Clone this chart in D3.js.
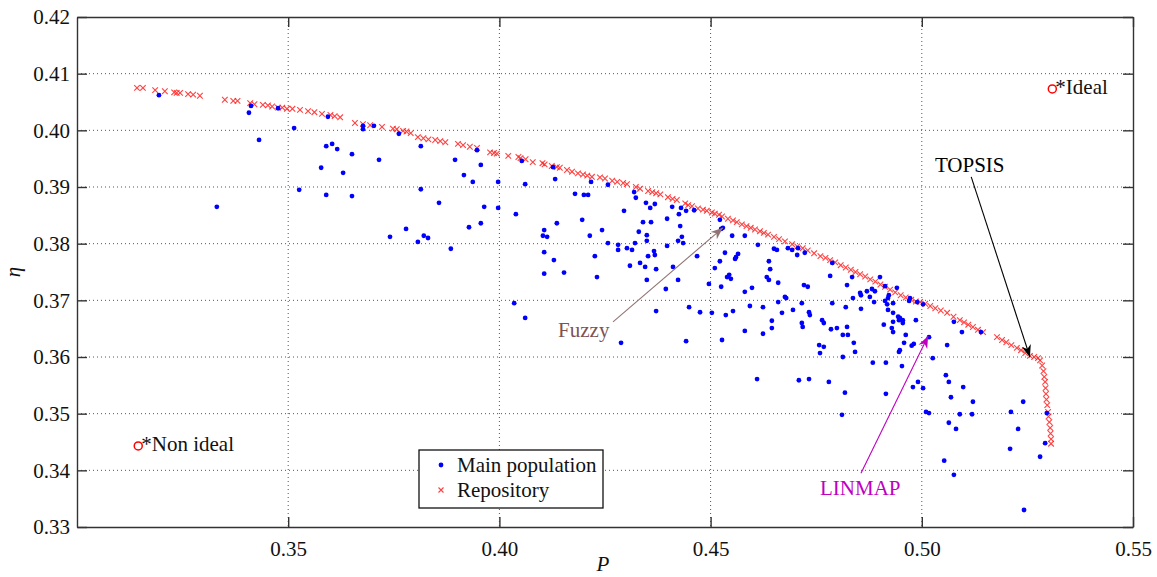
<!DOCTYPE html>
<html><head><meta charset="utf-8">
<script src="https://cdn.jsdelivr.net/npm/d3@7"></script>
<style>body{margin:0;background:#fff}svg{display:block}</style>
</head><body><svg id="c" width="1157" height="577"></svg>
<script>
const xTicks=[0.35,0.40,0.45,0.50,0.55];
const yTicks=[0.33,0.34,0.35,0.36,0.37,0.38,0.39,0.40,0.41,0.42];
const xDomain=[0.30,0.55];
const yDomain=[0.33,0.42];
const seriesNames=["Main population","Repository"];
// Repository (Pareto front) points [P, eta]
const repository=[
[0.3142,0.4075],[0.3156,0.4075],[0.3185,0.4071],[0.3208,0.4069],[0.3230,0.4067],[0.3236,0.4066],[0.3244,0.4066],[0.3263,0.4064],[0.3275,0.4063],[0.3291,0.4061],
[0.3350,0.4054],[0.3370,0.4052],[0.3380,0.4052],[0.3410,0.4048],[0.3420,0.4046],[0.3440,0.4045],[0.3452,0.4044],[0.3462,0.4042],[0.3476,0.4040],[0.3486,0.4040],
[0.3497,0.4038],[0.3510,0.4038],[0.3528,0.4036],[0.3547,0.4034],[0.3562,0.4032],[0.3580,0.4029],[0.3600,0.4027],[0.3610,0.4025],[0.3623,0.4023],[0.3658,0.4013],
[0.3677,0.4011],[0.3694,0.4009],[0.3722,0.4006],[0.3748,0.4003],[0.3757,0.4002],[0.3772,0.3999],[0.3780,0.3998],[0.3790,0.3995],[0.3807,0.3988],[0.3820,0.3986],
[0.3832,0.3984],[0.3848,0.3983],[0.3860,0.3981],[0.3872,0.3979],[0.3902,0.3976],[0.3914,0.3974],[0.3930,0.3971],[0.3947,0.3969],[0.3978,0.3961],[0.3987,0.3960],
[0.3994,0.3959],[0.4021,0.3955],[0.4045,0.3953],[0.4050,0.3951],[0.4062,0.3949],[0.4079,0.3944],[0.4102,0.3942],[0.4107,0.3940],[0.4124,0.3937],[0.4136,0.3935],
[0.4143,0.3934],[0.4160,0.3930],[0.4172,0.3927],[0.4186,0.3924],[0.4198,0.3922],[0.4208,0.3920],[0.4219,0.3918],[0.4238,0.3917],[0.4250,0.3915],[0.4267,0.3911],
[0.4279,0.3909],[0.4293,0.3907],[0.4302,0.3905],[0.4323,0.3900],[0.4333,0.3897],[0.4352,0.3893],[0.4362,0.3891],[0.4371,0.3889],[0.4381,0.3887],[0.4399,0.3882],
[0.4410,0.3879],[0.4420,0.3877],[0.4440,0.3871],[0.4447,0.3868],[0.4456,0.3866],[0.4470,0.3862],[0.4482,0.3860],[0.4491,0.3858],[0.4503,0.3855],[0.4510,0.3853],
[0.4520,0.3851],[0.4527,0.3848],[0.4541,0.3844],[0.4553,0.3841],[0.4562,0.3838],[0.4574,0.3834],[0.4585,0.3831],[0.4595,0.3828],[0.4605,0.3825],[0.4617,0.3822],
[0.4626,0.3819],[0.4636,0.3816],[0.4650,0.3812],[0.4662,0.3808],[0.4676,0.3804],[0.4693,0.3799],[0.4705,0.3795],[0.4718,0.3792],[0.4730,0.3788],[0.4745,0.3783],
[0.4760,0.3778],[0.4772,0.3775],[0.4783,0.3771],[0.4795,0.3767],[0.4808,0.3762],[0.4820,0.3758],[0.4832,0.3754],[0.4843,0.3750],[0.4854,0.3746],[0.4866,0.3742],
[0.4878,0.3737],[0.4890,0.3733],[0.4902,0.3728],[0.4913,0.3724],[0.4925,0.3719],[0.4937,0.3714],[0.4950,0.3709],[0.4962,0.3705],[0.4975,0.3701],[0.4986,0.3698],
[0.4996,0.3697],[0.5008,0.3694],[0.5020,0.3690],[0.5032,0.3686],[0.5045,0.3682],[0.5060,0.3678],[0.5075,0.3671],[0.5090,0.3665],[0.5100,0.3661],[0.5110,0.3657],
[0.5121,0.3653],[0.5133,0.3648],[0.5145,0.3644],[0.5178,0.3635],[0.5190,0.3630],[0.5200,0.3626],[0.5212,0.3621],[0.5225,0.3616],[0.5235,0.3612],[0.5245,0.3607],
[0.5256,0.3602],[0.5266,0.3600],[0.5275,0.3598],[0.5280,0.3594],[0.5285,0.3585],[0.5288,0.3575],[0.5290,0.3565],[0.5292,0.3556],[0.5293,0.3545],[0.5294,0.3535],
[0.5295,0.3525],[0.5297,0.3515],[0.5299,0.3503],[0.5300,0.3495],[0.5302,0.3485],[0.5304,0.3475],[0.5305,0.3465],[0.5306,0.3455],[0.5306,0.3447]
];
// Main population points [P, eta]
const mainPopulation=[
[0.3194,0.4062],[0.3407,0.4031],[0.3412,0.4043],[0.3431,0.3983],[0.3331,0.3865],[0.3476,0.4039],[0.3514,0.4004],[0.3526,0.3895],[0.3578,0.3934],[0.3590,0.3972],
[0.3594,0.4024],[0.3604,0.3976],[0.3616,0.3967],[0.3590,0.3886],[0.3630,0.3925],[0.3651,0.3958],[0.3651,0.3884],[0.3677,0.4008],[0.3677,0.4002],[0.3703,0.4008],
[0.3715,0.3948],[0.3741,0.3812],[0.3762,0.3994],[0.3814,0.3972],[0.3814,0.3896],[0.3857,0.3872],[0.3779,0.3826],[0.3807,0.3803],[0.3821,0.3814],[0.3831,0.3810],
[0.3885,0.3791],[0.3895,0.3948],[0.3916,0.3921],[0.3937,0.3909],[0.3947,0.3965],[0.3956,0.3939],[0.3928,0.3829],[0.3956,0.3836],[0.3964,0.3865],[0.3997,0.3909],
[0.3997,0.3863],[0.4035,0.3695],[0.4061,0.3669],[0.4039,0.3852],[0.4053,0.3946],[0.4061,0.3905],
[0.4106,0.3824],[0.4103,0.3814],[0.4113,0.3812],[0.4106,0.3785],[0.4129,0.3771],[0.4106,0.3747],[0.4153,0.3749],[0.4132,0.3914],[0.4136,0.3836],[0.4127,0.3935],
[0.4179,0.3888],[0.4200,0.3886],[0.4210,0.3886],[0.4196,0.3842],[0.4214,0.3814],[0.4226,0.3778],[0.4231,0.3741],[0.4243,0.3824],[0.4217,0.3909],[0.4257,0.3801],
[0.4257,0.3904],[0.4281,0.3798],[0.4281,0.3789],[0.4295,0.3858],[0.4302,0.3792],[0.4309,0.3761],[0.4314,0.3789],[0.4321,0.3801],[0.4323,0.3881],[0.4330,0.3821],
[0.4333,0.3766],[0.4340,0.3838],[0.4347,0.3872],[0.4349,0.3815],[0.4349,0.3805],[0.4345,0.3759],[0.4352,0.3778],[0.4357,0.3863],[0.4359,0.3838],[0.4349,0.3736],
[0.4368,0.3870],[0.4366,0.3787],[0.4368,0.3780],[0.4371,0.3755],[0.4394,0.3720],[0.4397,0.3844],[0.4397,0.3796],[0.4411,0.3759],[0.4423,0.3736],[0.4423,0.3805],
[0.4425,0.3852],[0.4428,0.3831],[0.4430,0.3863],[0.4432,0.3812],[0.4435,0.3801],[0.4442,0.3858],[0.4461,0.3859],[0.4468,0.3778],[0.4496,0.3729],[0.4510,0.3757],
[0.4522,0.3769],[0.4525,0.3724],[0.4534,0.3784],[0.4539,0.3741],[0.4544,0.3745],[0.4548,0.3738],[0.4551,0.3814],[0.4560,0.3776],[0.4565,0.3782],[0.4581,0.3814],
[0.4581,0.3715],[0.4598,0.3722],[0.4612,0.3798],[0.4638,0.3769],[0.4641,0.3755],[0.4633,0.3741],[0.4638,0.3736],[0.4660,0.3731],[0.4650,0.3791],[0.4657,0.3789],
[0.4529,0.3828],[0.4525,0.3826],[0.4522,0.3842],[0.4319,0.3891],[0.4409,0.3865],[0.4683,0.3792],[0.4558,0.3773],[0.4679,0.3704],[0.4660,0.3697],
[0.4288,0.3625],[0.4371,0.3681],[0.4442,0.3628],[0.4449,0.3688],[0.4475,0.3679],[0.4503,0.3678],[0.4527,0.3630],[0.4536,0.3674],[0.4553,0.3681],[0.4581,0.3646],
[0.4593,0.3690],[0.4610,0.3561],[0.4624,0.3688],[0.4624,0.3641],[0.4645,0.3664],[0.4645,0.3651],[0.4669,0.3678],[0.4695,0.3683],
[0.4693,0.3789],[0.4707,0.3792],[0.4723,0.3784],[0.4705,0.3780],[0.4783,0.3743],[0.4721,0.3727],[0.4730,0.3724],[0.4788,0.3766],[0.4835,0.3741],[0.4823,0.3727],
[0.4856,0.3709],[0.4837,0.3704],[0.4870,0.3716],[0.4889,0.3716],[0.4901,0.3741],[0.4913,0.3725],[0.4920,0.3704],[0.4932,0.3695],[0.4941,0.3722],[0.4716,0.3695],
[0.4788,0.3695],[0.4989,0.3697],[0.4972,0.3704],[0.4676,0.3706],[0.4716,0.3660],[0.4718,0.3653],[0.4733,0.3679],[0.4735,0.3674],[0.4764,0.3665],[0.4768,0.3660],
[0.4785,0.3649],[0.4799,0.3651],[0.4813,0.3639],[0.4825,0.3639],[0.4820,0.3688],[0.4823,0.3653],[0.4854,0.3713],[0.4856,0.3685],[0.4877,0.3706],[0.4882,0.3720],
[0.4887,0.3697],[0.4913,0.3699],[0.4918,0.3693],[0.4920,0.3683],[0.4922,0.3709],[0.4944,0.3671],[0.4946,0.3665],[0.4955,0.3665],[0.4955,0.3660],[0.4929,0.3651],
[0.4932,0.3644],[0.4962,0.3639],[0.4986,0.3665],[0.4981,0.3623],[0.4976,0.3620],[0.4958,0.3625],[0.4948,0.3612],[0.4946,0.3609],[0.4953,0.3584],[0.4915,0.3590],
[0.4884,0.3590],[0.4842,0.3609],[0.4839,0.3625],[0.4813,0.3600],[0.4818,0.3537],[0.4811,0.3498],[0.4780,0.3556],[0.4757,0.3621],[0.4759,0.3607],[0.4709,0.3559],
[0.4733,0.3561],[0.4915,0.3535],[0.4979,0.3547],[0.4991,0.3556],[0.5003,0.3545],[0.5010,0.3503],[0.5017,0.3501],[0.5017,0.3635],[0.5026,0.3598],[0.5060,0.3621],
[0.5057,0.3568],[0.5064,0.3556],[0.5069,0.3529],[0.5095,0.3644],[0.5098,0.3547],[0.5090,0.3499],[0.5119,0.3499],[0.5121,0.3521],[0.5064,0.3484],[0.5081,0.3473],
[0.5053,0.3417],[0.5076,0.3392],[0.5140,0.3644],[0.5211,0.3503],[0.5228,0.3473],[0.5240,0.3521],[0.5209,0.3438],[0.5280,0.3424],[0.5292,0.3448],[0.5296,0.3501],
[0.5242,0.3330],[0.5076,0.3662],[0.5003,0.3693],[0.4970,0.3699],[0.4768,0.3618],[0.4910,0.3657],[0.4932,0.3662],[0.4948,0.3669],[0.4932,0.3678]
];
// Reference points
const refNames=["*Ideal","*Non ideal"];
const refP=[0.5309,0.3145];
const refEta=[0.4073,0.3443];
// Annotations: label, text anchor (P, eta), arrow start, arrow tip
const annLabels=["TOPSIS","Fuzzy","LINMAP"];
const annColors=["#000000","#7d5252","#c000c0"];
const annArrowColors=["#000000","#907474","#c000c0"];
const annText=[[0.5031,0.3926],[0.4139,0.3635],[0.4759,0.3356]];
const annFrom=[[0.5117,0.3918],[0.4269,0.3662],[0.4856,0.3395]];
const annTip=[[0.5256,0.3600],[0.4529,0.3828],[0.5015,0.3637]];

const svg=d3.select("#c");
const SERIF="Liberation Serif";
const m={l:77,t:17,r:24,b:50};
const W=1157,H=577;
const iw=W-m.l-m.r, ih=H-m.t-m.b;
const x=d3.scaleLinear().domain(xDomain).range([m.l,m.l+iw]);
const y=d3.scaleLinear().domain(yDomain).range([m.t+ih,m.t]);
const fs=21;

// grid
const grid=svg.append("g");
grid.selectAll("line.gx").data(xTicks.filter(d=>d>xDomain[0]&&d<xDomain[1])).enter().append("line")
 .attr("x1",d=>x(d)).attr("x2",d=>x(d)).attr("y1",m.t).attr("y2",m.t+ih)
 .attr("stroke","#555").attr("stroke-width",1).attr("stroke-dasharray","1,3");
grid.selectAll("line.gy").data(yTicks.filter(d=>d>yDomain[0]&&d<yDomain[1])).enter().append("line")
 .attr("y1",d=>y(d)).attr("y2",d=>y(d)).attr("x1",m.l).attr("x2",m.l+iw)
 .attr("stroke","#555").attr("stroke-width",1).attr("stroke-dasharray","1,3");

// axes (ticks inward)
const fmt=d3.format(".2f");
const ax=svg.append("g").attr("transform",`translate(0,${m.t+ih})`).call(d3.axisBottom(x).tickValues(xTicks).tickFormat(fmt).tickSizeInner(-10).tickSizeOuter(0).tickPadding(14));
const ay=svg.append("g").attr("transform",`translate(${m.l},0)`).call(d3.axisLeft(y).tickValues(yTicks).tickFormat(fmt).tickSizeInner(-10).tickSizeOuter(0).tickPadding(7));
const axT=svg.append("g").attr("transform",`translate(0,${m.t})`).call(d3.axisTop(x).tickValues(xTicks).tickFormat("").tickSizeInner(-10).tickSizeOuter(0));
const ayR=svg.append("g").attr("transform",`translate(${m.l+iw},0)`).call(d3.axisRight(y).tickValues(yTicks).tickFormat("").tickSizeInner(-10).tickSizeOuter(0));
[ax,ay,axT,ayR].forEach(g=>{
  g.attr("font-family",SERIF).attr("font-size",fs);
  g.selectAll("path.domain").attr("stroke","#333").attr("stroke-width",1.4);
  g.selectAll(".tick line").attr("stroke","#333").attr("stroke-width",1.4);
  g.selectAll(".tick text").attr("font-family",SERIF).attr("font-size",fs).attr("fill","#111");
});
ax.selectAll(".tick text").attr("dy","0.71em");

// repository x markers
const s=2.8;
svg.append("g").selectAll("path").data(repository).enter().append("path")
 .attr("d",d=>{const px=x(d[0]),py=y(d[1]);return `M${px-s},${py-s}L${px+s},${py+s}M${px-s},${py+s}L${px+s},${py-s}`;})
 .attr("stroke","#ff2020").attr("stroke-width",1.1).attr("fill","none").attr("opacity",0.85);

// main population
svg.append("g").selectAll("circle").data(mainPopulation).enter().append("circle")
 .attr("cx",d=>x(d[0])).attr("cy",d=>y(d[1])).attr("r",2.4).attr("fill","#0000ff");

// reference points
refNames.forEach((n,i)=>{
  svg.append("circle").attr("cx",x(refP[i])).attr("cy",y(refEta[i])).attr("r",4).attr("fill","none").attr("stroke","#ff0000").attr("stroke-width",1.5);
  svg.append("text").attr("x",x(refP[i])+3).attr("y",y(refEta[i])+5).attr("font-family",SERIF).attr("font-size",fs).attr("fill","#111").text(n);
});

// annotations
const defs=svg.append("defs");
annLabels.forEach((lab,i)=>{
  defs.append("marker").attr("id","ah"+i).attr("viewBox","0 0 10 10").attr("refX",10).attr("refY",5)
   .attr("markerWidth",12).attr("markerHeight",12).attr("markerUnits","userSpaceOnUse").attr("orient","auto")
   .append("path").attr("d","M0,1 L10,5 L0,9 L3,5 Z").attr("fill",annArrowColors[i]);
  svg.append("line").attr("x1",x(annFrom[i][0])).attr("y1",y(annFrom[i][1])).attr("x2",x(annTip[i][0])).attr("y2",y(annTip[i][1]))
   .attr("stroke",annArrowColors[i]).attr("stroke-width",1.1).attr("marker-end",`url(#ah${i})`);
  svg.append("text").attr("x",x(annText[i][0])).attr("y",y(annText[i][1])).attr("font-family",SERIF).attr("font-size",fs).attr("fill",annColors[i]).text(lab);
});

// legend
const lg=svg.append("g").attr("font-family",SERIF);
lg.append("rect").attr("x",419).attr("y",450).attr("width",184).attr("height",58).attr("fill","#fff").attr("stroke","#111").attr("stroke-width",1.3);
lg.append("circle").attr("cx",441).attr("cy",465).attr("r",2.4).attr("fill","#0000ff");
lg.append("path").attr("d",`M${441-2.5},${490-2.5}L${441+2.5},${490+2.5}M${441-2.5},${490+2.5}L${441+2.5},${490-2.5}`).attr("stroke","#ff2020").attr("stroke-width",1.1).attr("opacity",0.85);
lg.append("text").attr("x",457).attr("y",472).attr("font-family",SERIF).attr("font-size",fs).attr("fill","#111").text(seriesNames[0]);
lg.append("text").attr("x",457).attr("y",497).attr("font-family",SERIF).attr("font-size",fs).attr("fill","#111").text(seriesNames[1]);

// axis labels
svg.append("text").attr("x",x(0.4245)).attr("y",571).attr("font-family",SERIF).attr("font-size",fs).attr("font-style","italic").attr("text-anchor","middle").attr("fill","#111").text("P");
svg.append("text").attr("transform",`translate(20,${y(0.375)}) rotate(-90)`).attr("font-family",SERIF).attr("font-size",fs).attr("font-style","italic").attr("text-anchor","middle").attr("fill","#111").text("η");
</script></body></html>
